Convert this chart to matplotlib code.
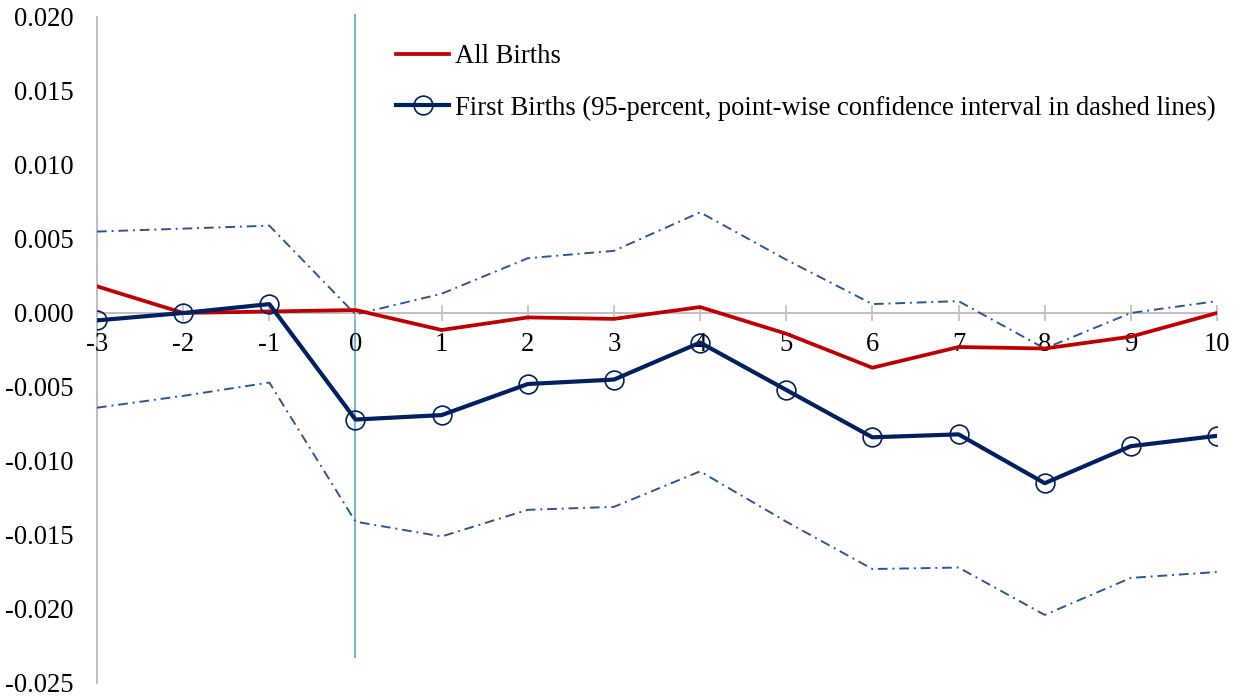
import matplotlib.pyplot as plt
import numpy as np

from matplotlib import rcParams
rcParams['font.family'] = 'serif'
rcParams['font.serif'] = ['Liberation Serif', 'DejaVu Serif']
rcParams['font.size'] = 19.2

years = [-3, -2, -1, 0, 1, 2, 3, 4, 5, 6, 7, 8, 9, 10]
all_births = [0.0018, 0.0, 0.0001, 0.0002, -0.00115, -0.0003, -0.0004,
              0.0004, -0.0014, -0.0037, -0.0023, -0.0024, -0.0016, 0.0]
first_births = [-0.0005, 0.0, 0.0006, -0.0072, -0.0069, -0.0048, -0.0045,
                -0.0020, -0.0052, -0.0084, -0.0082, -0.0115, -0.0090, -0.0083]
ci_upper = [0.0055, 0.0057, 0.0059, -0.0001, 0.0013, 0.0037, 0.0042,
            0.0068, 0.0036, 0.0006, 0.0008, -0.0024, 0.0, 0.0008]
ci_lower = [-0.0064, -0.0056, -0.0047, -0.0141, -0.0151, -0.0133, -0.0131,
            -0.0107, -0.0141, -0.0173, -0.0172, -0.0204, -0.0179, -0.0175]
yticks = [-0.025, -0.020, -0.015, -0.010, -0.005, 0.0, 0.005, 0.010, 0.015, 0.020]

fig = plt.figure(figsize=(12.44, 6.98), dpi=100)
ax = fig.add_axes([0.078, 0.0215, 0.9003, 0.9542])

ci_col = '#2F5597'
dash = (0, (5, 2.5, 1, 2.5))
ax.plot(years, ci_upper, color=ci_col, lw=1.4, linestyle=dash)
ax.plot(years, ci_lower, color=ci_col, lw=1.4, linestyle=dash)

ax.plot(years, all_births, color='#C00000', lw=2.7, label='All Births', zorder=3)
ax.plot(years, first_births, color='#002060', lw=3.0, marker='o', markersize=13.5,
        markerfacecolor='none', markeredgecolor='#002060', markeredgewidth=1.2,
        label='First Births (95-percent, point-wise confidence interval in dashed lines)',
        zorder=4)

# vertical marker at event year
ax.vlines(0, -0.0233, 0.0202, color='#5B9BD5', lw=1.1, clip_on=False, zorder=1)

ax.set_xlim(-3, 10)
ax.set_ylim(-0.025, 0.020)
ax.set_xticks(years)
ax.set_xticklabels([str(y) for y in years])
ax.set_yticks(yticks)
ax.set_yticklabels(['%.3f' % v for v in yticks])

for s in ['top', 'right']:
    ax.spines[s].set_visible(False)
ax.spines['bottom'].set_position(('data', 0))
ax.spines['bottom'].set_color('#BFBFBF')
ax.spines['left'].set_color('#BFBFBF')
ax.spines['bottom'].set_linewidth(1.4)
ax.spines['left'].set_linewidth(1.4)
ax.spines['bottom'].set_zorder(0.5)
ax.spines['left'].set_zorder(0.5)

ax.tick_params(axis='x', direction='inout', length=11, width=1.2, color='#BFBFBF', pad=8.5)
ax.tick_params(axis='y', length=0, pad=17)

ax.legend(loc='upper left', bbox_to_anchor=(396 / 1244, 1 - 44 / 698),
          bbox_transform=fig.transFigure, frameon=False, handlelength=2.0,
          handletextpad=0.22, labelspacing=1.0, borderaxespad=0, borderpad=0)

fig.savefig('out.png', dpi=100)
